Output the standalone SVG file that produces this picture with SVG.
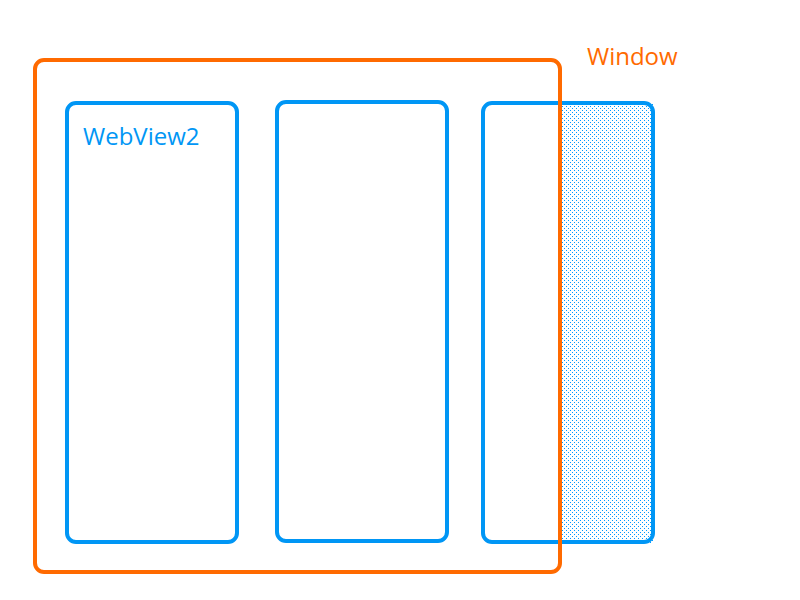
<svg xmlns="http://www.w3.org/2000/svg" width="800" height="600" viewBox="0 0 800 600">
<defs>
<pattern id="dots" width="4" height="4" patternUnits="userSpaceOnUse">
<rect x="0" y="0" width="1" height="1" fill="#0099ff"/>
<rect x="2" y="2" width="1" height="1" fill="#0099ff"/>
</pattern>
</defs>
<style>
.wv{fill:none;stroke:#0096f5;stroke-width:4}
.win{fill:none;stroke:#ff6a00;stroke-width:4}
text{font-family:"Open Sans","Noto Sans",sans-serif;font-size:24px}
</style>
<rect width="800" height="600" fill="#fff"/>
<g id="hatch"><rect x="560" y="103" width="93" height="440" fill="url(#dots)"/></g>
<g id="wv1"><rect class="wv" x="67" y="103" width="170" height="439" rx="9"/><text x="83" y="145" fill="#0096f5">WebView2</text></g>
<g id="wv2"><rect class="wv" x="277" y="102" width="170" height="439" rx="9"/></g>
<g id="wv3"><rect class="wv" x="483" y="103" width="170" height="439" rx="9"/></g>
<g id="window"><rect class="win" x="35" y="60" width="525" height="512" rx="9"/><text x="587" y="65" fill="#ff6a00">Window</text></g>
<g id="connectors"/>
</svg>
